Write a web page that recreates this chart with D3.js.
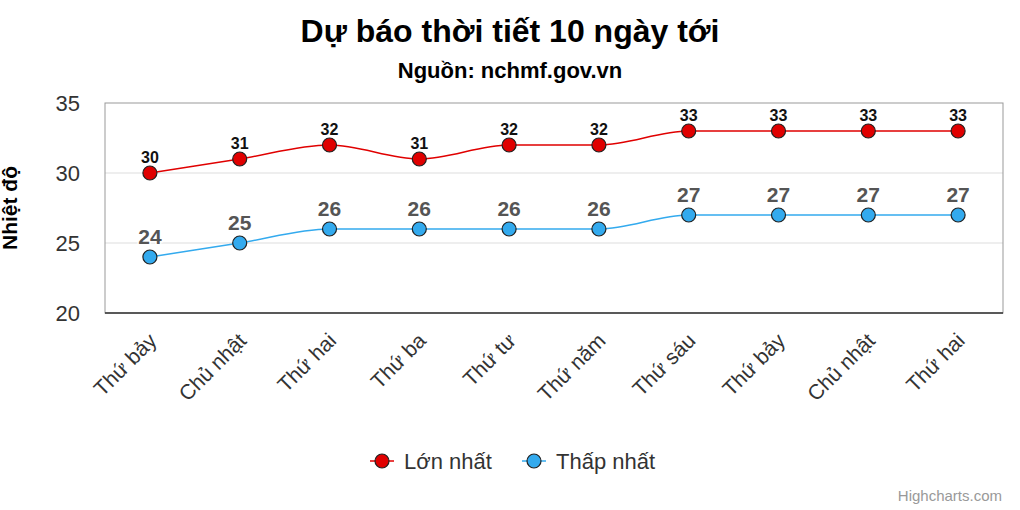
<!DOCTYPE html>
<html>
<head>
<meta charset="utf-8" />
<script src="https://d3js.org/d3.v7.min.js"></script>
<style>
  body { margin: 0; background: #fff; }
  text { font-family: "Liberation Sans", Arial, sans-serif; }
</style>
</head>
<body>
<div id="chart"></div>
<script>
var days = ["Thứ bảy", "Chủ nhật", "Thứ hai", "Thứ ba", "Thứ tư", "Thứ năm", "Thứ sáu", "Thứ bảy", "Chủ nhật", "Thứ hai"];
var maxTemp = [30, 31, 32, 31, 32, 32, 33, 33, 33, 33];
var minTemp = [24, 25, 26, 26, 26, 26, 27, 27, 27, 27];
var yTicks = [20, 25, 30, 35];

var width = 1020, height = 510;
var plotLeft = 105, plotRight = 1003, plotTop = 103, plotBottom = 313;

var svg = d3.select("#chart").append("svg")
  .attr("width", width)
  .attr("height", height);

var x = d3.scaleBand().domain(d3.range(days.length)).range([plotLeft, plotRight]);
var y = d3.scaleLinear().domain([20, 35]).range([plotBottom, plotTop]);
var cx = function(i) { return x(i) + x.bandwidth() / 2; };

// title
svg.append("text").attr("x", 510).attr("y", 42).attr("text-anchor", "middle")
  .style("font-size", "32px").style("font-weight", "bold").text("Dự báo thời tiết 10 ngày tới");
svg.append("text").attr("x", 510).attr("y", 78).attr("text-anchor", "middle")
  .style("font-size", "22px").style("font-weight", "bold").text("Nguồn: nchmf.gov.vn");

// grid
svg.selectAll(".grid").data(yTicks.slice(1, 3)).enter().append("line")
  .attr("x1", plotLeft).attr("x2", plotRight)
  .attr("y1", function(d) { return y(d); }).attr("y2", function(d) { return y(d); })
  .attr("stroke", "#ddd");

// plot border
svg.append("rect").attr("x", plotLeft).attr("y", plotTop).attr("width", plotRight - plotLeft).attr("height", plotBottom - plotTop)
  .attr("fill", "none").attr("stroke", "#999");
svg.append("line").attr("x1", plotLeft).attr("x2", plotRight).attr("y1", plotBottom).attr("y2", plotBottom)
  .attr("stroke", "#333").attr("stroke-width", 1.5);

// y axis labels
svg.selectAll(".ytick").data(yTicks).enter().append("text")
  .attr("x", 80).attr("y", function(d) { return y(d) + 8; })
  .attr("text-anchor", "end").style("font-size", "22px").attr("fill", "#333")
  .text(function(d) { return d; });

svg.append("text").attr("transform", "translate(17,208) rotate(-90)")
  .attr("text-anchor", "middle").style("font-size", "21px").style("font-weight", "bold")
  .text("Nhiệt độ");

// x labels
svg.selectAll(".xtick").data(days).enter().append("text")
  .attr("transform", function(d, i) { return "translate(" + (cx(i) + 8) + ",342) rotate(-45)"; })
  .attr("text-anchor", "end").style("font-size", "21px").attr("fill", "#333")
  .text(function(d) { return d; });

var line = d3.line().x(function(d, i) { return cx(i); }).y(function(d) { return y(d); })
  .curve(d3.curveMonotoneX);

function series(data, color, labelColor, labelSize, labelDy) {
  svg.append("path").datum(data).attr("d", line)
    .attr("fill", "none").attr("stroke", color).attr("stroke-width", 1.5);
  svg.selectAll(null).data(data).enter().append("circle")
    .attr("cx", function(d, i) { return cx(i); }).attr("cy", function(d) { return y(d); })
    .attr("r", 7).attr("fill", color).attr("stroke", "#222").attr("stroke-width", 1.2);
  svg.selectAll(null).data(data).enter().append("text")
    .attr("x", function(d, i) { return cx(i); }).attr("y", function(d) { return y(d) + labelDy; })
    .attr("text-anchor", "middle").style("font-size", labelSize).style("font-weight", "bold")
    .attr("fill", labelColor).attr("stroke", "#fff").attr("stroke-width", 3)
    .attr("paint-order", "stroke").text(function(d) { return d; });
}
series(maxTemp, "#e00000", "#111", "16px", -10);
series(minTemp, "#33aaee", "#555", "21px", -13);

// legend
var legend = [["Lớn nhất", "#e00000", 370], ["Thấp nhất", "#33aaee", 522]];
legend.forEach(function(l) {
  svg.append("line").attr("x1", l[2]).attr("x2", l[2] + 24).attr("y1", 461).attr("y2", 461)
    .attr("stroke", l[1]).attr("stroke-width", 1.5);
  svg.append("circle").attr("cx", l[2] + 12).attr("cy", 461).attr("r", 7)
    .attr("fill", l[1]).attr("stroke", "#222").attr("stroke-width", 1.2);
  svg.append("text").attr("x", l[2] + 34).attr("y", 469).style("font-size", "22px")
    .attr("fill", "#333").text(l[0]);
});

svg.append("text").attr("x", 1002).attr("y", 501).attr("text-anchor", "end")
  .style("font-size", "15px").attr("fill", "#999").text("Highcharts.com");
</script>
</body>
</html>
